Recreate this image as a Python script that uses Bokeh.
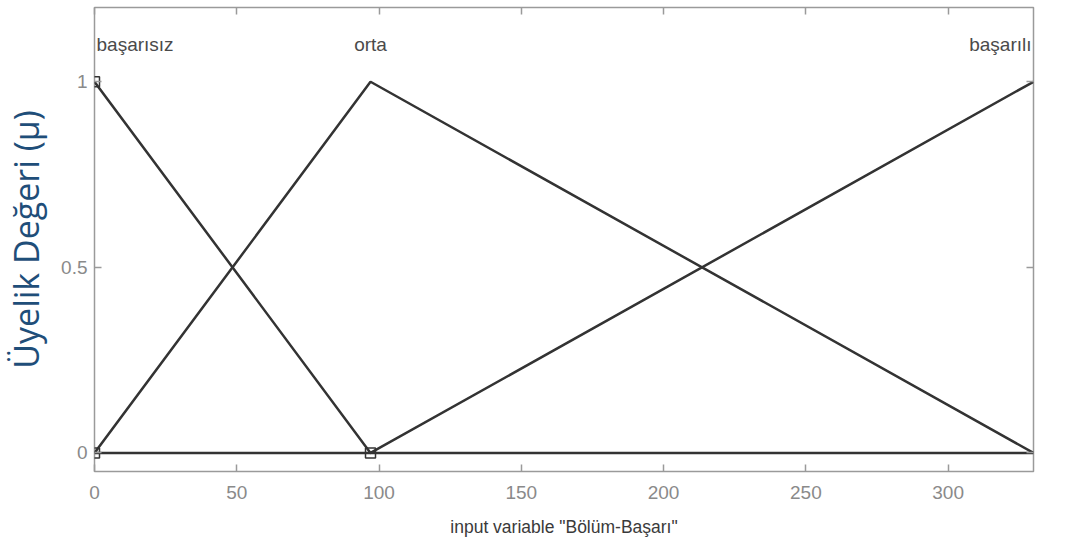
from bokeh.plotting import figure
from bokeh.models import Range1d, LinearAxis, FixedTicker, Label
from bokeh.embed import file_html
from bokeh.resources import INLINE

# ---- data ----
mf_names = ["başarısız", "orta", "başarılı"]
mf_x = [[0, 97, 330], [0, 97, 330], [0, 97, 330]]
mf_y = [[1, 0, 0], [0, 1, 0], [0, 0, 1]]
mf_label_x = [0, 97, 330]
mf_label_y = [1.1, 1.1, 1.1]
handle_x = [0, 0, 97]
handle_y = [1, 0, 0]
x_ticks = [0, 50, 100, 150, 200, 250, 300]
y_ticks = [0, 0.5, 1]
x_label = 'input variable "Bölüm-Başarı"'
y_label = "Üyelik Değeri (μ)"

FRAME = "#9a9a9a"
TICKTXT = "#8a8a8a"
LINE = "#333333"

p = figure(width=1065, height=540, output_backend="svg", toolbar_location=None,
           x_range=Range1d(0, 330), y_range=Range1d(-0.05, 1.2),
           min_border_left=94, min_border_right=32, min_border_top=7, min_border_bottom=69)
p.grid.visible = False
p.outline_line_color = FRAME
p.outline_line_width = 1.5
p.background_fill_color = "white"
p.border_fill_color = "white"

for xs, ys in zip(mf_x, mf_y):
    p.line(xs, ys, line_color=LINE, line_width=2.5)

p.scatter(handle_x, handle_y, marker="square", size=10, fill_color=None,
          line_color=LINE, line_width=1.5)

# labels at the range edges are kept inside the frame (Bokeh clips to the frame)
xmin, xmax = p.x_range.start, p.x_range.end
for nm, lx, ly in zip(mf_names, mf_label_x, mf_label_y):
    if lx <= xmin:
        align, off = "left", 2
    elif lx >= xmax:
        align, off = "right", -2
    else:
        align, off = "center", 0
    p.add_layout(Label(x=lx, y=ly, text=nm, text_align=align, x_offset=off,
                       text_baseline="middle", text_font="Liberation Sans",
                       text_font_size="19px", text_color="#4a4a4a"))

def style_axis(ax, ticks, show_labels):
    ax.ticker = FixedTicker(ticks=ticks)
    ax.axis_line_color = None
    ax.major_tick_line_color = FRAME
    ax.major_tick_line_width = 1.5
    ax.major_tick_in = 7
    ax.major_tick_out = 0
    ax.minor_tick_line_color = None
    ax.major_label_text_font = "Liberation Sans"
    ax.major_label_text_color = TICKTXT
    if show_labels:
        ax.major_label_text_font_size = "19px"
    else:
        ax.major_label_overrides = {t: "" for t in ticks}
        ax.major_label_text_font_size = "2px"
        ax.major_label_standoff = 0

xa = p.xaxis[0]
style_axis(xa, x_ticks, True)
xa.major_label_standoff = 14
xa.axis_label = x_label
xa.axis_label_text_font = "Liberation Sans"
xa.axis_label_text_font_style = "normal"
xa.axis_label_text_font_size = "17.5px"
xa.axis_label_text_color = "#3a3a3a"
xa.axis_label_standoff = 15

ya = p.yaxis[0]
style_axis(ya, y_ticks, True)
ya.major_label_overrides = {0: "0", 0.5: "0.5", 1: "1"}
ya.major_label_standoff = 7
ya.axis_label = y_label
ya.axis_label_text_font = "Open Sans"
ya.axis_label_text_font_style = "normal"
ya.axis_label_text_font_size = "34px"
ya.axis_label_text_color = "#1F4E79"
ya.axis_label_standoff = 9

top = LinearAxis()
style_axis(top, x_ticks, False)
p.add_layout(top, "above")

right = LinearAxis()
style_axis(right, y_ticks, False)
p.add_layout(right, "right")

open("out.html", "w").write(file_html(p, INLINE))
